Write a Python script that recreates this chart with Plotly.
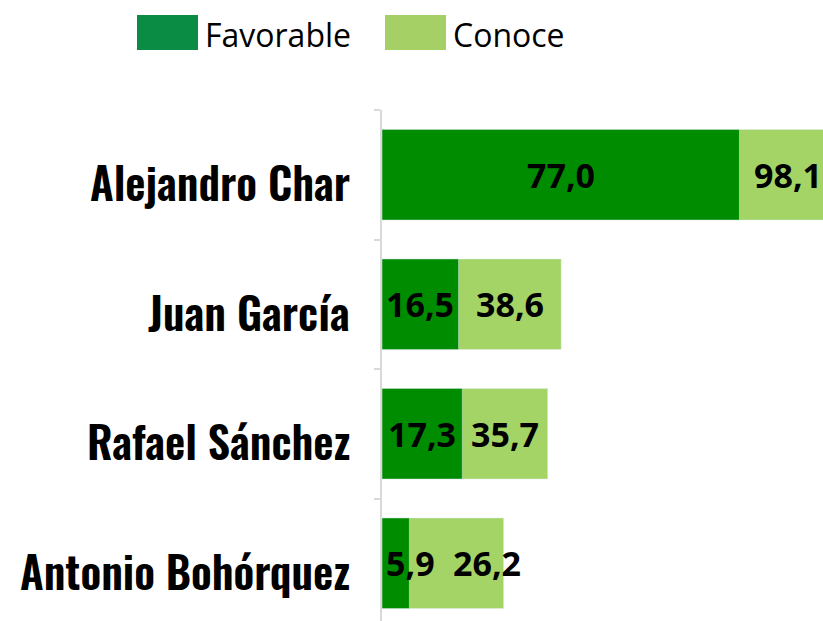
import plotly.graph_objects as go

names = ["Alejandro Char", "Juan García", "Rafael Sánchez", "Antonio Bohórquez"]
favorable = [77.0, 16.5, 17.3, 5.9]
conoce = [98.1, 38.6, 35.7, 26.2]
series_names = ["Favorable", "Conoce"]

W, H = 823, 621
L, T = 382, 110
PW, PH = W - L, H - T

DARK = "#008c00"
LIGHT = "#a3d465"
LEG_DARK = "#0b8c45"
LEG_LIGHT = "#a4d065"

def fmt(v):
    return f"{v:.1f}".replace(".", ",")

fig = go.Figure()
fig.add_trace(go.Bar(y=names, x=conoce, orientation="h", marker_color=LIGHT,
                     width=0.7, name=series_names[1], showlegend=False,
                     hoverinfo="skip"))
fig.add_trace(go.Bar(y=names, x=favorable, orientation="h", marker_color=DARK,
                     width=0.7, name=series_names[0], showlegend=False,
                     hoverinfo="skip"))

lab_font = dict(family="Open Sans", size=34, color="black", weight="bold")
cat_font = dict(family="Oswald, Roboto Condensed, sans-serif", size=44,
                color="black", weight=600)
annotations = []
for n, f, c in zip(names, favorable, conoce):
    annotations.append(dict(x=0, y=n, text=n, showarrow=False, xanchor="right",
                            yanchor="middle", xshift=-30, yshift=-7, font=cat_font))
    if f >= 10:
        annotations.append(dict(x=f / 2, y=n, text=fmt(f), showarrow=False,
                                xanchor="center", font=lab_font))
        annotations.append(dict(x=(f + c) / 2, y=n, text=fmt(c), showarrow=False,
                                xanchor="center", font=lab_font))
    else:
        annotations.append(dict(x=0, y=n, text=fmt(f), showarrow=False,
                                xanchor="left", xshift=2, font=lab_font))
        annotations.append(dict(x=f, y=n, text=fmt(c), showarrow=False,
                                xanchor="left", xshift=42, font=lab_font))

def px_x(p):
    return (p - L) / PW

def px_y(p):
    return (H - p) / PH

shapes = []
legend_items = [(series_names[0], LEG_DARK, 137, 198, 203),
                (series_names[1], LEG_LIGHT, 385, 446, 451)]
for label, col, x0, x1, tx in legend_items:
    shapes.append(dict(type="rect", xref="paper", yref="paper",
                       x0=px_x(x0), x1=px_x(x1), y0=px_y(50), y1=px_y(15),
                       fillcolor=col, line=dict(width=0), layer="above"))
    annotations.append(dict(xref="paper", yref="paper", x=px_x(tx), y=px_y(34),
                            text=label, showarrow=False, xanchor="left",
                            yanchor="middle",
                            font=dict(family="Open Sans", size=32, color="black")))

fig.update_layout(
    width=W, height=H,
    margin=dict(l=L, r=0, t=T, b=0, pad=0, autoexpand=False),
    barmode="overlay",
    plot_bgcolor="white", paper_bgcolor="white",
    showlegend=False,
    annotations=annotations,
    shapes=shapes,
    xaxis=dict(range=[0, 95], visible=False, showgrid=False, zeroline=False,
               automargin=False),
    yaxis=dict(
        categoryorder="array", categoryarray=names, automargin=False,
        range=[len(names) - 0.5 - (len(names) * 129.5 - PH) / 129.5, -0.5],
        showline=True, linecolor="#d9d9d9", linewidth=2,
        ticks="outside", tickson="boundaries", ticklen=6, tickcolor="#d9d9d9",
        tickwidth=1.5, showticklabels=False,
        showgrid=False, zeroline=False,
    ),
)

fig.write_html("out.html", post_script="document.body.style.margin='0';",
               config={"displayModeBar": False})
